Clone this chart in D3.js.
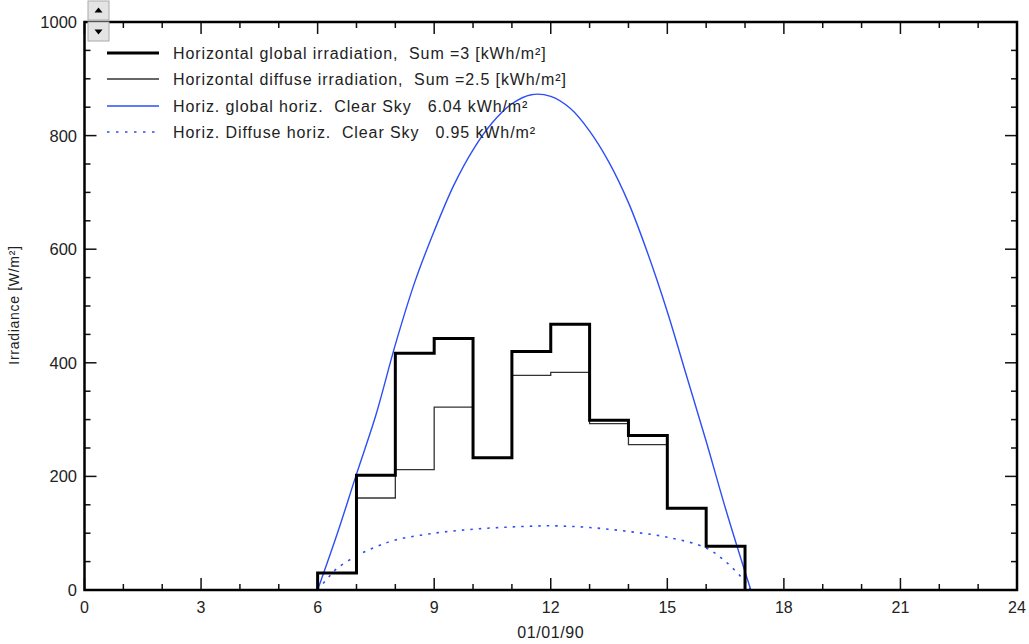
<!DOCTYPE html>
<html>
<head>
<meta charset="utf-8">
<script src="https://cdn.jsdelivr.net/npm/d3@7"></script>
<style>
  html, body { margin: 0; padding: 0; background: #fff; }
  svg { display: block; font-family: "Liberation Sans", Arial, sans-serif; }
  text { white-space: pre; fill: #222; }
</style>
</head>
<body>
<svg id="chart" width="1029" height="644"></svg>
<script>
// ---- data ----
const stepHours = [6, 7, 8, 9, 10, 11, 12, 13, 14, 15, 16];
const globalIrr = [30, 202, 417, 443, 233, 420, 468, 299, 272, 144, 77];
const diffuseIrr = [30, 162, 212, 322, 233, 378, 383, 293, 256, 144, 77];

const clearHours = [6.0, 6.5, 7.0, 7.5, 8.0, 8.5, 9.0, 9.5, 10.0, 10.5, 11.0, 11.5, 12.0, 12.5, 13.0, 13.5, 14.0, 14.5, 15.0, 15.5, 16.0, 16.5, 17.0, 17.15];
const clearGlobal = [0, 98, 204, 308, 432, 542, 632, 712, 775, 823, 856, 872, 869, 848, 808, 753, 682, 592, 490, 376, 262, 143, 32, 0];

const clearDiffHours = [6.0, 6.25, 6.5, 7.0, 7.5, 8.0, 9.0, 10.0, 11.0, 12.0, 13.0, 14.0, 15.0, 16.0, 16.5, 17.0, 17.15];
const clearDiffuse = [0, 20, 38, 60, 76, 88, 100, 107, 111, 113, 110, 103, 93, 74, 50, 15, 0];

const xTicks = [0, 3, 6, 9, 12, 15, 18, 21, 24];
const yTicks = [0, 200, 400, 600, 800, 1000];

const legendLabels = [
  "Horizontal global irradiation,  Sum =3 [kWh/m²]",
  "Horizontal diffuse irradiation,  Sum =2.5 [kWh/m²]",
  "Horiz. global horiz.  Clear Sky   6.04 kWh/m²",
  "Horiz. Diffuse horiz.  Clear Sky   0.95 kWh/m²"
];
const xTitle = "01/01/90";
const yTitle = "Irradiance [W/m²]";

// ---- chart ----
const svg = d3.select("#chart");
const L = 84.5, R = 1017, T = 22, B = 590;
const x = d3.scaleLinear().domain([0, 24]).range([L, R]);
const y = d3.scaleLinear().domain([0, 1000]).range([B, T]);
const blue = "#2d4ef5";

const minorX = d3.range(0, 25, 1);
const minorY = d3.range(0, 1001, 50);

// ticks (inward)
const tickG = svg.append("g").attr("stroke", "#111").attr("stroke-width", 1.5);
minorX.forEach(h => {
  const len = h % 3 === 0 ? 12 : 6;
  tickG.append("line").attr("x1", x(h)).attr("x2", x(h)).attr("y1", B).attr("y2", B - len);
  tickG.append("line").attr("x1", x(h)).attr("x2", x(h)).attr("y1", T).attr("y2", T + len);
});
minorY.forEach(v => {
  const len = v % 200 === 0 ? 12 : 6;
  tickG.append("line").attr("y1", y(v)).attr("y2", y(v)).attr("x1", L).attr("x2", L + len);
  tickG.append("line").attr("y1", y(v)).attr("y2", y(v)).attr("x1", R).attr("x2", R - len);
});

// tick labels
svg.append("g").selectAll("text").data(xTicks).join("text")
  .attr("x", d => x(d)).attr("y", 613).attr("text-anchor", "middle")
  .attr("font-size", 16).text(d => d);
svg.append("g").selectAll("text").data(yTicks).join("text")
  .attr("x", 77).attr("y", d => y(d) + 6).attr("text-anchor", "end")
  .attr("font-size", 16.5).text(d => d);

svg.append("text").attr("x", x(12)).attr("y", 638).attr("text-anchor", "middle")
  .attr("font-size", 16).attr("letter-spacing", 0.6).text(xTitle);
svg.append("text").attr("transform", "translate(19,305) rotate(-90)")
  .attr("text-anchor", "middle").attr("font-size", 14).attr("letter-spacing", 0.7).text(yTitle);

// series
function stepPoints(vals) {
  const pts = [[stepHours[0], 0]];
  stepHours.forEach((h, i) => pts.push([h, vals[i]]));
  const lastH = stepHours[stepHours.length - 1] + 1;
  pts.push([lastH, vals[vals.length - 1]]);
  pts.push([lastH, 0]);
  return pts;
}
const stepLine = d3.line().x(d => x(d[0])).y(d => y(d[1])).curve(d3.curveStepAfter);
const smooth = d3.line().x(d => x(d[0])).y(d => y(d[1])).curve(d3.curveCatmullRom.alpha(0.5));

svg.append("path").attr("d", smooth(clearDiffHours.map((h, i) => [h, clearDiffuse[i]])))
  .attr("fill", "none").attr("stroke", blue).attr("stroke-width", 1.6).attr("stroke-dasharray", "2.5,6");
svg.append("path").attr("d", smooth(clearHours.map((h, i) => [h, clearGlobal[i]])))
  .attr("fill", "none").attr("stroke", blue).attr("stroke-width", 1.4);
svg.append("path").attr("d", stepLine(stepPoints(diffuseIrr)))
  .attr("fill", "none").attr("stroke", "#333").attr("stroke-width", 1.3);
svg.append("path").attr("d", stepLine(stepPoints(globalIrr)))
  .attr("fill", "none").attr("stroke", "#000").attr("stroke-width", 3);

// frame
svg.append("rect").attr("x", L).attr("y", T).attr("width", R - L).attr("height", B - T)
  .attr("fill", "none").attr("stroke", "#000").attr("stroke-width", 2.5);

// legend
const legStyles = [
  { stroke: "#000", w: 3, dash: null, x2: 159 },
  { stroke: "#333", w: 1.3, dash: null, x2: 159 },
  { stroke: blue, w: 1.4, dash: null, x2: 159 },
  { stroke: blue, w: 1.6, dash: "2.5,6.5", x2: 155 }
];
const legY = [53, 79, 106, 132];
legendLabels.forEach((lab, i) => {
  const s = legStyles[i];
  svg.append("line").attr("x1", 107).attr("x2", s.x2).attr("y1", legY[i]).attr("y2", legY[i])
    .attr("stroke", s.stroke).attr("stroke-width", s.w).attr("stroke-dasharray", s.dash);
  svg.append("text").attr("x", 173).attr("y", legY[i] + 5.5).attr("font-size", 16)
    .attr("letter-spacing", 0.9).text(lab);
});

// scroll buttons
[[88, 1, "up"], [88, 22, "down"]].forEach(([bx, by, dir]) => {
  svg.append("rect").attr("x", bx).attr("y", by).attr("width", 21).attr("height", 19)
    .attr("fill", "#e4e4e4").attr("stroke", "#aaa").attr("stroke-width", 1);
  const cx = bx + 10.5, cy = by + 9.5;
  const pts = dir === "up"
    ? [[cx - 4, cy + 2], [cx + 4, cy + 2], [cx, cy - 3]]
    : [[cx - 4, cy - 2], [cx + 4, cy - 2], [cx, cy + 3]];
  svg.append("polygon").attr("points", pts.map(p => p.join(",")).join(" ")).attr("fill", "#000");
});
</script>
</body>
</html>
